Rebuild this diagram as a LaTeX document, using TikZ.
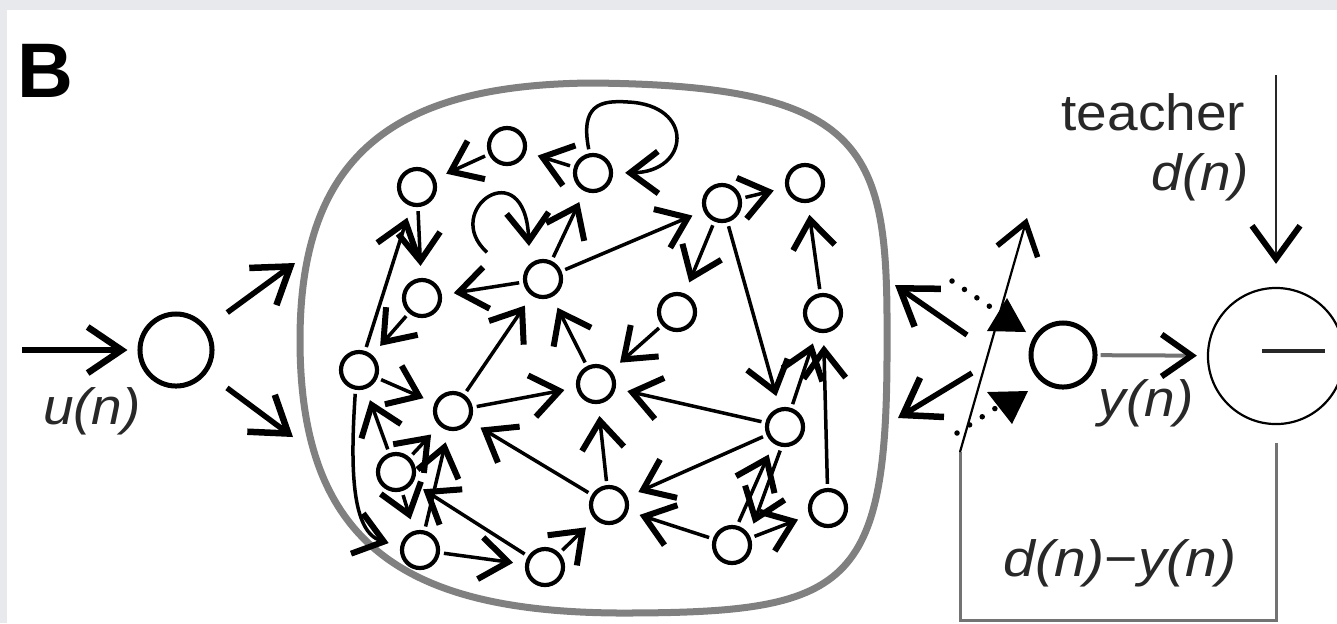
\documentclass[tikz,border=0pt]{standalone}
\usepackage{fontspec}
\setmainfont{Liberation Sans}
\usetikzlibrary{arrows.meta}
\definecolor{framegray}{RGB}{231,233,236}
\definecolor{resgray}{RGB}{128,128,128}
\definecolor{fbgray}{RGB}{115,115,115}
\definecolor{txtgray}{RGB}{40,40,40}
\newcommand{\widen}[1]{\scalebox{1.08}[1]{#1}}
\tikzset{
  neuron/.style={circle, draw=black, line width=0.042cm, minimum size=0.36cm, inner sep=0pt},
  edge/.style={line width=0.035cm, -{Straight Barb[length=0.28cm, width=0.42cm, line width=0.06cm]}, shorten >=0.12cm, shorten <=0.04cm},
  bigedge/.style={line width=0.055cm, -{Straight Barb[length=0.34cm, width=0.46cm, line width=0.065cm]}},
  lbl/.style={font=\fontsize{14.5}{17}\selectfont, inner sep=0pt, text=txtgray},
  dots/.style={line width=0.055cm, line cap=round, dash pattern=on 0pt off 0.15cm},
}
\begin{document}
\begin{tikzpicture}[x=0.01cm, y=-0.01cm]
\useasboundingbox (0,0) rectangle (1337,623);
\fill[framegray] (0,0) rectangle (1337,623);
\fill[white] (7,10) rectangle (1337,623);

% panel letter
\node[font=\fontsize{22}{26}\selectfont\bfseries, anchor=base west, inner sep=0pt] (lblB) at (17,97) {B};

% reservoir boundary
\draw[resgray, line width=0.07cm] (300,340) .. controls (300,150) and (400,85) .. (590,83)
  .. controls (870,85) and (888,150) .. (887,340)
  .. controls (888,590) and (850,613) .. (620,613)
  .. controls (400,612) and (300,540) .. (300,340) -- cycle;

% input
\node[neuron, minimum size=0.72cm, line width=0.05cm] (in) at (176,350) {};
\coordinate (uin) at (22,350);
\coordinate (r1) at (295,263);
\coordinate (r2) at (293,437);
\draw[bigedge, shorten >=0.1cm] (uin) -- (in);
\draw[bigedge, shorten <=0.25cm] (in) -- (r1);
\draw[bigedge, shorten <=0.25cm] (in) -- (r2);
\node[lbl] (tu) at (92,411) {\widen{\itshape u(n)}};

% reservoir neurons
\node[neuron] (n1) at (507,146) {};
\node[neuron] (n2) at (417,187) {};
\node[neuron] (n3) at (593,173) {};
\node[neuron] (n4) at (722,203) {};
\node[neuron] (n5) at (805,183) {};
\node[neuron] (n6) at (422,298) {};
\node[neuron] (n7) at (543,279) {};
\node[neuron] (n8) at (677,312) {};
\node[neuron] (n9) at (823,313) {};
\node[neuron] (n10) at (359,370) {};
\node[neuron] (n11) at (453,411) {};
\node[neuron] (n12) at (596,384) {};
\node[neuron] (n13) at (785,427) {};
\node[neuron] (n14) at (396,472) {};
\node[neuron] (n15) at (420,550) {};
\node[neuron] (n16) at (545,567) {};
\node[neuron] (n17) at (609,505) {};
\node[neuron] (n18) at (732,545) {};
\node[neuron] (n19) at (828,508) {};

% reservoir connections
\draw[edge] (n1) -- (n2);
\draw[edge] (n3) -- (n1);
\draw[edge] (n3.100) .. controls (580,105) and (600,100) .. (628,102) .. controls (695,105) and (690,172) .. (n3.east);
\draw[edge] (n10) -- (n2);
\draw[edge] (n2) -- (n6);
\coordinate (c7) at (490,255);
\coordinate (t7) at (529,246);
\draw[edge, shorten >=0pt] (c7) .. controls (440,210) and (525,150) .. (t7);
\draw[edge] (n7) -- (n3);
\draw[edge] (n7) -- (n4);
\draw[edge] (n4) -- (n5);
\draw[edge] (n9) -- (n5);
\draw[edge] (n4) -- (n8);
\draw[edge] (n4) -- (n13);
\draw[edge] (n19) -- (n9);
\draw[edge] (n13) -- (n9);
\draw[edge] (n6) -- (n10);
\draw[edge] (n7) -- (n6);
\draw[edge] (n11) -- (n7);
\draw[edge] (n10) -- (n11);
\draw[edge] (n14) -- (n10);
\draw[edge] (n10.260) .. controls (350,470) and (352,532) .. (n15.170);
\draw[edge] (n14) -- (n11);
\draw[edge] (n15) -- (n11);
\draw[edge] (n16) -- (n14);
\draw[edge] (n14) -- (n15);
\draw[edge] (n15) -- (n16);
\draw[edge] (n16) -- (n17);
\draw[edge] (n11) -- (n12);
\draw[edge] (n17) -- (n11);
\draw[edge] (n17) -- (n12);
\draw[edge] (n13) -- (n12);
\draw[edge] (n8) -- (n12);
\draw[edge] (n13) -- (n17);
\draw[edge] (n18) -- (n17);
\draw[edge] (n18.75) -- (n13.235);
\draw[edge] (n13.260) -- (n18.30);
\draw[edge] (n18) -- (n19);
\draw[edge] (n12) -- (n7);

% output unit
\node[neuron, minimum size=0.64cm, line width=0.05cm] (out) at (1063,355) {};
\node[circle, draw=black, line width=0.022cm, minimum size=1.36cm, inner sep=0pt] (sub) at (1276,356) {};
\draw[txtgray, line width=0.045cm] (sub.center) ++(-14,-5) -- ++(63,0);
\draw[fbgray, line width=0.04cm, -{Straight Barb[length=0.3cm, width=0.42cm, line width=0.06cm, color=black]}, shorten <=0.03cm, shorten >=0.1cm] (out) -- (sub);
\node[lbl] (ty) at (1146,403) {\widen{\itshape y(n)}};

% teacher
\coordinate (tch) at (1276,75);
\draw[txtgray, line width=0.025cm, -{Straight Barb[length=0.33cm, width=0.48cm, line width=0.06cm, color=black]}, shorten >=0.23cm] (tch) -- (sub);
\node[lbl, anchor=base east] (tt) at (1246,130) {\widen{teacher}};
\node[lbl, anchor=base east] (td) at (1250,190) {\widen{\itshape d(n)}};

% output weights and feedback
\coordinate (w1s) at (967,335);
\coordinate (w1e) at (895,285);
\coordinate (w2s) at (972,373);
\coordinate (w2e) at (898,418);
\draw[bigedge] (w1s) -- (w1e);
\draw[bigedge] (w2s) -- (w2e);
\coordinate (d1s) at (952,281);
\coordinate (d1e) at (992,308);
\coordinate (d2s) at (957,433);
\coordinate (d2e) at (1002,404);
\draw[dots] (d1s) -- (d1e);
\draw[dots] (d2s) -- (d2e);
\fill (987,331) -- (1026,332) -- (1007,298) -- cycle;
\fill (987,392) -- (1028,391) -- (1012,424) -- cycle;

% error feedback path
\coordinate (fbR) at (1276,620);
\coordinate (fbL) at (960,620);
\coordinate (fbK) at (960,452);
\coordinate (fbT) at (1027,218);
\draw[fbgray, line width=0.03cm, shorten <=0.18cm] (sub) -- (fbR) -- (fbL) -- (fbK);
\draw[line width=0.022cm, -{Straight Barb[length=0.3cm, width=0.42cm, line width=0.055cm]}] (fbK) -- (fbT);
\node[lbl] (tdy) at (1120,563) {\scalebox{1.12}[1]{\textit{d(n)}−\textit{y(n)}}};
\end{tikzpicture}
\end{document}
